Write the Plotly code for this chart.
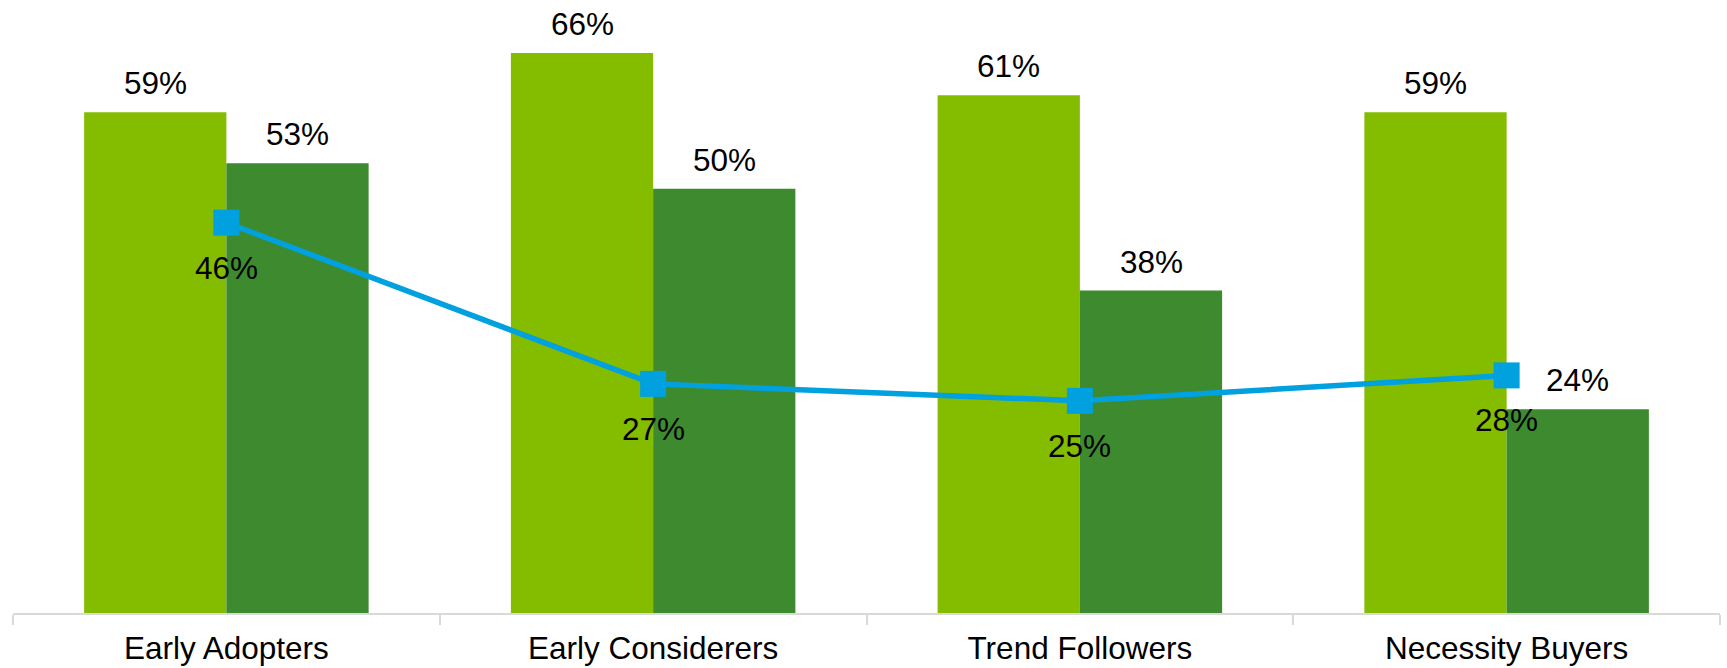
import plotly.graph_objects as go

# Segment names and survey shares (%)
segments = ["Early Adopters", "Early Considerers", "Trend Followers", "Necessity Buyers"]
series_a = [59, 66, 61, 59]
series_b = [53, 50, 38, 24]
series_line = [46, 27, 25, 28]

LIGHT = "#84BC00"
DARK = "#3E8A2F"
BLUE = "#00A1DE"
FONT = "Liberation Sans, Arial, sans-serif"
LABEL_SIZE = 31.5

fig = go.Figure()
fig.add_trace(go.Bar(x=segments, y=series_a, marker=dict(color=LIGHT, line=dict(width=0)),
                     hoverinfo="skip"))
fig.add_trace(go.Bar(x=segments, y=series_b, marker=dict(color=DARK, line=dict(width=0)),
                     hoverinfo="skip"))
fig.add_trace(go.Scatter(x=segments, y=series_line, mode="lines+markers",
                         line=dict(color=BLUE, width=5.5),
                         marker=dict(symbol="square", size=26, color=BLUE),
                         hoverinfo="skip"))

# Value labels: above each bar, below each line marker
half = (1 - 1 / 3) / 4  # offset of each bar centre from the category centre
annotations = []
for i in range(len(segments)):
    annotations.append(dict(x=i - half, y=series_a[i], text=f"{series_a[i]}%",
                            yanchor="bottom", yshift=9))
    annotations.append(dict(x=i + half, y=series_b[i], text=f"{series_b[i]}%",
                            yanchor="bottom", yshift=9))
    annotations.append(dict(x=i, y=series_line[i], text=f"{series_line[i]}%",
                            yanchor="middle", yshift=-45))
for a in annotations:
    a.update(xref="x", yref="y", showarrow=False, xanchor="center",
             font=dict(family=FONT, size=LABEL_SIZE, color="#000000"))

fig.update_layout(
    width=1727, height=668,
    margin=dict(l=13, r=7, t=19, b=55),
    barmode="group", bargap=1 / 3, bargroupgap=0,
    showlegend=False,
    plot_bgcolor="white", paper_bgcolor="white",
    font=dict(family=FONT, size=LABEL_SIZE, color="#000000"),
    annotations=annotations,
)
fig.update_xaxes(
    showline=True, linecolor="#D9D9D9", linewidth=1.5,
    ticks="outside", tickson="boundaries", ticklen=10, tickcolor="#D9D9D9", tickwidth=1.5,
    ticklabelstandoff=6, automargin=False,
    showgrid=False, tickfont=dict(family=FONT, size=LABEL_SIZE, color="#000000"),
    range=[-0.5, 3.5],
)
fig.update_yaxes(range=[0, 70], visible=False, showgrid=False, zeroline=False,
                 automargin=False)

fig.write_html("out.html")
